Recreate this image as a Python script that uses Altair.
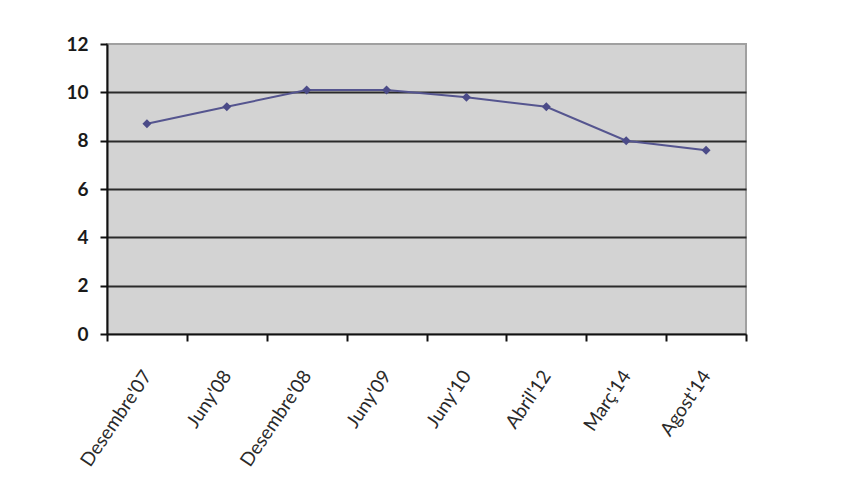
import json
import altair as alt
import pandas as pd

categories = ["Desembre'07", "Juny'08", "Desembre'08", "Juny'09", "Juny'10", "Abril'12", "Març'14", "Agost'14"]
values = [8.7, 9.4, 10.1, 10.1, 9.8, 9.4, 8.0, 7.6]
y_ticks = [0, 2, 4, 6, 8, 10, 12]

df = pd.DataFrame({
    "cat": categories,
    "pos": [i + 0.5 for i in range(len(categories))],
    "val": values,
})

n = len(categories)
x_vals = [i * 0.5 for i in range(2 * n + 1)]
label_expr = ("datum.value % 1 == 0.5 ? " + json.dumps(categories, ensure_ascii=False)
              + "[floor(datum.value)] : ''")

x_axis = alt.Axis(
    values=x_vals, labelExpr=label_expr, grid=False, title=None,
    tickOpacity={"condition": {"test": "datum.value % 1 != 0", "value": 0}, "value": 1},
    tickSize=7, tickWidth=2, tickColor="#111",
    domainColor="#111", domainWidth=2,
    labelAngle=-56, labelAlign="right", labelBaseline="middle",
    labelPadding=31, labelFont="Lato", labelFontSize=19, labelColor="#2a2a2a",
    labelOverlap=False, labelFlush=False, labelBound=False,
)

y_axis = alt.Axis(
    values=y_ticks, title=None,
    grid=True, gridColor="#2a2a2a", gridWidth=2,
    gridOpacity={"condition": {"test": "datum.value == 12 || datum.value == 0", "value": 0}, "value": 1},
    tickSize=7, tickWidth=2, tickColor="#111",
    domainColor="#111", domainWidth=2,
    labelPadding=12, labelFont="Lato", labelFontSize=19, labelFontWeight="bold",
    labelColor="#1a1a1a",
)

base = alt.Chart(df).encode(
    x=alt.X("pos:Q", scale=alt.Scale(domain=[0, n], nice=False, zero=False), axis=x_axis),
    y=alt.Y("val:Q", scale=alt.Scale(domain=[0, 12], nice=False), axis=y_axis),
)

line = base.mark_line(color="#55558f", strokeWidth=2)
pts = base.mark_point(shape="diamond", filled=True, size=80, color="#4b4b88", opacity=1)

chart = (line + pts).properties(
    width=639, height=290,
    autosize=alt.AutoSizeParams(type="none"),
    padding={"left": 99, "top": 36, "right": 100, "bottom": 146},
    background="white",
).configure_view(
    fill="#d3d3d3", stroke="#a0a0a0", strokeWidth=2,
)

chart.save("out.html", embed_options={"renderer": "svg", "actions": False})
